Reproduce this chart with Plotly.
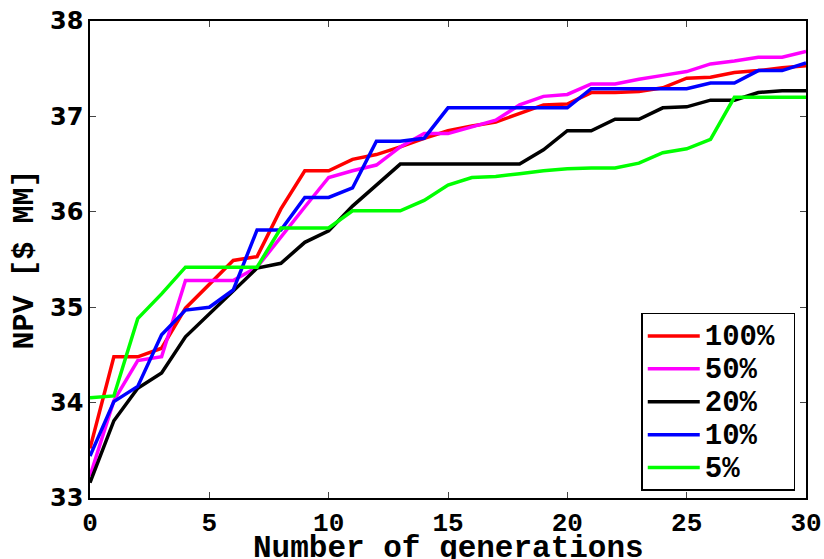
import plotly.graph_objects as go

generations = list(range(31))

npv_100 = [33.52, 34.48, 34.48, 34.57, 34.99, 35.24, 35.49, 35.53, 36.03, 36.43, 36.43,
           36.55, 36.60, 36.68, 36.77, 36.85, 36.90, 36.94, 37.03, 37.12, 37.13,
           37.25, 37.25, 37.26, 37.30, 37.40, 37.41, 37.46, 37.48, 37.51, 37.53]
npv_50 = [33.23, 34.02, 34.44, 34.48, 35.28, 35.28, 35.28, 35.42, 35.74, 36.05, 36.36,
          36.43, 36.49, 36.68, 36.82, 36.82, 36.89, 36.96, 37.12, 37.21, 37.23,
          37.34, 37.34, 37.39, 37.43, 37.47, 37.55, 37.58, 37.62, 37.62, 37.68]
npv_20 = [33.16, 33.81, 34.15, 34.31, 34.69, 34.93, 35.18, 35.41, 35.46, 35.68, 35.80,
          36.06, 36.28, 36.50, 36.50, 36.50, 36.50, 36.50, 36.50, 36.65, 36.85,
          36.85, 36.97, 36.97, 37.09, 37.10, 37.17, 37.17, 37.25, 37.27, 37.27]
npv_10 = [33.44, 34.01, 34.17, 34.71, 34.97, 35.00, 35.18, 35.81, 35.81, 36.15, 36.15,
          36.25, 36.74, 36.74, 36.77, 37.09, 37.09, 37.09, 37.09, 37.09, 37.09,
          37.29, 37.29, 37.29, 37.29, 37.29, 37.35, 37.35, 37.48, 37.48, 37.56]
npv_5 = [34.05, 34.07, 34.88, 35.14, 35.42, 35.42, 35.42, 35.42, 35.83, 35.83, 35.83,
         36.01, 36.01, 36.01, 36.12, 36.28, 36.36, 36.37, 36.40, 36.43, 36.45,
         36.46, 36.46, 36.51, 36.62, 36.66, 36.76, 37.20, 37.20, 37.20, 37.20]

series_names = ["100%", "50%", "20%", "10%", "5%"]
series_values = [npv_100, npv_50, npv_20, npv_10, npv_5]
series_colors = ["#ff0000", "#ff00ff", "#000000", "#0000ff", "#00ff00"]

x_ticks = [0, 5, 10, 15, 20, 25, 30]
y_ticks = [33, 34, 35, 36, 37, 38]

fig = go.Figure()
for name, vals, col in zip(series_names, series_values, series_colors):
    fig.add_trace(go.Scatter(
        x=generations, y=vals, mode="lines",
        name='<span style="font-size:29px">' + name + '</span>&nbsp;',
        line=dict(color=col, width=3.5)))

mono = "Liberation Mono"
fig.update_layout(
    width=824, height=559,
    margin=dict(l=90, r=18, t=21, b=61),
    paper_bgcolor="white", plot_bgcolor="white",
    showlegend=True,
    legend=dict(
        x=0.985, y=0.0147, xanchor="right", yanchor="bottom",
        bgcolor="white", bordercolor="black", borderwidth=1.5,
        font=dict(family=mono, size=23, color="black", weight="bold"),
        tracegroupgap=0, itemwidth=52,
    ),
    annotations=[dict(
        text="Number of generations", xref="paper", yref="paper",
        x=0.5, y=-0.106, xanchor="center", yanchor="middle", showarrow=False,
        font=dict(family=mono, size=31, color="black", weight="bold"),
    )],
)
fig.update_xaxes(
    range=[0, 30], tickvals=x_ticks, ticktext=[str(v) for v in x_ticks],
    automargin=False,
    showgrid=False, zeroline=False,
    showline=True, linecolor="black", linewidth=1.5, mirror="ticks",
    ticks="inside", ticklen=6, tickwidth=1, tickcolor="#444",
    tickfont=dict(family=mono, size=26, color="black", weight="bold"),
)
fig.update_yaxes(
    range=[33, 38], tickvals=y_ticks, ticktext=[str(v) for v in y_ticks],
    automargin=False,
    showgrid=False, zeroline=False,
    showline=True, linecolor="black", linewidth=1.5, mirror="ticks",
    ticks="inside", ticklen=6, tickwidth=1, tickcolor="#444",
    tickfont=dict(family="DejaVu Sans", size=24, color="black", weight="bold"),
    title=dict(text="NPV [$ MM]", standoff=8,
               font=dict(family=mono, size=30, color="black", weight="bold")),
)

fig.write_html("out.html")
